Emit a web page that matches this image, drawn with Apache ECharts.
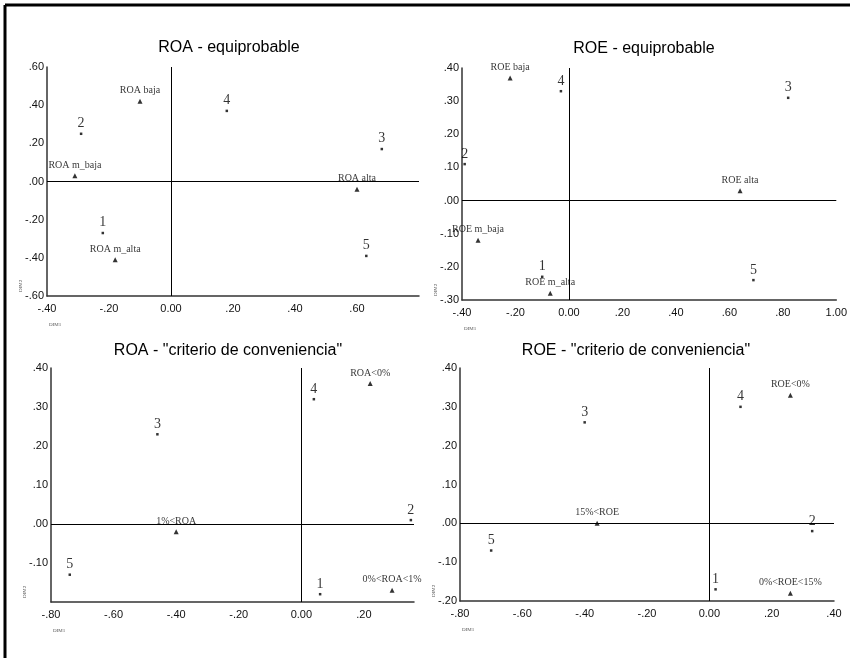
<!DOCTYPE html>
<html>
<head>
<meta charset="utf-8">
<script src="https://cdn.jsdelivr.net/npm/echarts@6/dist/echarts.min.js"></script>
<style>
  html,body{margin:0;padding:0;background:#fff;}
  #main{width:850px;height:658px;}
</style>
</head>
<body>
<div id="main"></div>
<script>
// ROA - equiprobable
var roaEqCat = ['ROA baja', 'ROA m_baja', 'ROA alta', 'ROA m_alta'];
var roaEqCatX = [-0.10, -0.31, 0.60, -0.18];
var roaEqCatY = [0.42, 0.03, -0.04, -0.41];
var roaEqObj = ['1', '2', '3', '4', '5'];
var roaEqObjX = [-0.22, -0.29, 0.68, 0.18, 0.63];
var roaEqObjY = [-0.27, 0.25, 0.17, 0.37, -0.39];

// ROE - equiprobable
var roeEqCat = ['ROE baja', 'ROE alta', 'ROE m_baja', 'ROE m_alta'];
var roeEqCatX = [-0.22, 0.64, -0.34, -0.07];
var roeEqCatY = [0.37, 0.03, -0.12, -0.28];
var roeEqObj = ['1', '2', '3', '4', '5'];
var roeEqObjX = [-0.10, -0.39, 0.82, -0.03, 0.69];
var roeEqObjY = [-0.23, 0.11, 0.31, 0.33, -0.24];

// ROA - criterio de conveniencia
var roaCvCat = ['ROA<0%', '1%<ROA', '0%<ROA<1%'];
var roaCvCatX = [0.22, -0.40, 0.29];
var roaCvCatY = [0.36, -0.02, -0.17];
var roaCvObj = ['1', '2', '3', '4', '5'];
var roaCvObjX = [0.06, 0.35, -0.46, 0.04, -0.74];
var roaCvObjY = [-0.18, 0.01, 0.23, 0.32, -0.13];

// ROE - criterio de conveniencia
var roeCvCat = ['ROE<0%', '15%<ROE', '0%<ROE<15%'];
var roeCvCatX = [0.26, -0.36, 0.26];
var roeCvCatY = [0.33, 0.00, -0.18];
var roeCvObj = ['1', '2', '3', '4', '5'];
var roeCvObjX = [0.02, 0.33, -0.40, 0.10, -0.70];
var roeCvObjY = [-0.17, -0.02, 0.26, 0.30, -0.07];

var titles = ['ROA - equiprobable', 'ROE - equiprobable',
  'ROA - "criterio de conveniencia"', 'ROE - "criterio de conveniencia"'];

var chart = echarts.init(document.getElementById('main'), null, {renderer: 'canvas'});

function pts(names, xs, ys) {
  var out = [];
  for (var i = 0; i < names.length; i++) {
    out.push({name: names[i], value: [xs[i], ys[i]]});
  }
  return out;
}

function fmtX(v) {
  if (Math.abs(v) < 1e-9) return '0.00';
  return v.toFixed(2).replace('0.', '.');
}
function fmtY(v) {
  if (Math.abs(v) < 1e-9) return '.00';
  return v.toFixed(2).replace('0.', '.');
}

var panels = [
  {grid: {left: 47, right: 431, top: 67, bottom: 362},
   x: [-0.4, 0.8, 0.2, false], y: [-0.6, 0.6, 0.2, true],
   cat: pts(roaEqCat, roaEqCatX, roaEqCatY), obj: pts(roaEqObj, roaEqObjX, roaEqObjY)},
  {grid: {left: 462, right: 12, top: 68, bottom: 358},
   x: [-0.4, 1.0, 0.2, true], y: [-0.3, 0.4, 0.1, true],
   cat: pts(roeEqCat, roeEqCatX, roeEqCatY), obj: pts(roeEqObj, roeEqObjX, roeEqObjY)},
  {grid: {left: 51, right: 436, top: 368, bottom: 56},
   x: [-0.8, 0.36, 0.2, false], y: [-0.2, 0.4, 0.1, true, false],
   cat: pts(roaCvCat, roaCvCatX, roaCvCatY), obj: pts(roaCvObj, roaCvObjX, roaCvObjY)},
  {grid: {left: 460, right: 16, top: 368, bottom: 57},
   x: [-0.8, 0.4, 0.2, true], y: [-0.2, 0.4, 0.1, true],
   cat: pts(roeCvCat, roeCvCatX, roeCvCatY), obj: pts(roeCvObj, roeCvObjX, roeCvObjY)}
];

var titleCenters = [[224, 35], [639, 36], [223, 338], [631, 338]];

var grids = [], xAxes = [], yAxes = [], series = [], titleList = [], graphics = [];

var axisLineStyle = {color: '#333', width: 1.5};
var tickFont = {color: '#111', fontFamily: 'Liberation Sans', fontSize: 11};

panels.forEach(function (p, i) {
  grids.push(p.grid);
  titleList.push({
    text: titles[i], left: titleCenters[i][0], top: titleCenters[i][1], textAlign: 'center',
    textStyle: {fontFamily: 'Liberation Sans', fontSize: 16, fontWeight: 'normal', color: '#000'}
  });
  xAxes.push({
    type: 'value', gridIndex: i, min: p.x[0], max: p.x[1], interval: p.x[2],
    axisLine: {show: true, onZero: false, lineStyle: axisLineStyle},
    axisTick: {show: false}, splitLine: {show: false},
    axisLabel: Object.assign({formatter: fmtX, margin: 7, showMaxLabel: p.x[3]}, tickFont)
  });
  yAxes.push({
    type: 'value', gridIndex: i, min: p.y[0], max: p.y[1], interval: p.y[2],
    axisLine: {show: true, onZero: false, lineStyle: axisLineStyle},
    axisTick: {show: false}, splitLine: {show: false},
    axisLabel: Object.assign({formatter: fmtY, margin: 3,
      showMinLabel: p.y[4] === false ? false : true}, tickFont)
  });
  series.push({
    type: 'scatter', xAxisIndex: i, yAxisIndex: i, data: p.cat,
    symbol: 'triangle', symbolSize: 5, itemStyle: {color: '#000'},
    label: {show: true, position: 'top', distance: 3, formatter: '{b}',
      fontFamily: 'Liberation Serif', fontSize: 10, color: '#000'},
    markLine: {
      silent: true, symbol: 'none', animation: false,
      label: {show: false},
      lineStyle: {color: '#000', width: 1, type: 'solid'},
      data: [{xAxis: 0}, {yAxis: 0}]
    },
    z: 3
  });
  series.push({
    type: 'scatter', xAxisIndex: i, yAxisIndex: i, data: p.obj,
    symbol: 'rect', symbolSize: 2.5, itemStyle: {color: '#000'},
    label: {show: true, position: 'top', distance: 2, formatter: '{b}',
      fontFamily: 'Liberation Serif', fontSize: 14, color: '#000'},
    z: 3
  });
  // small axis names
  var gl = p.grid.left, gb = 658 - p.grid.bottom;
  graphics.push({type: 'text', left: gl + 2, top: gb + 26,
    style: {text: 'DIM1', font: '5px Liberation Serif', fill: '#555'}});
  graphics.push({type: 'text', x: gl - 26, y: gb - 4, rotation: Math.PI / 2,
    style: {text: 'DIM2', font: '5px Liberation Serif', fill: '#555', align: 'left', verticalAlign: 'middle'}});
});

// page frame (top and left edges)
graphics.push({type: 'line', shape: {x1: 5, y1: 5, x2: 850, y2: 5}, style: {stroke: '#000', lineWidth: 3}});
graphics.push({type: 'line', shape: {x1: 5, y1: 5, x2: 5, y2: 658}, style: {stroke: '#000', lineWidth: 3}});

var option = {
  animation: false,
  backgroundColor: '#fff',
  title: titleList,
  grid: grids,
  xAxis: xAxes,
  yAxis: yAxes,
  series: series,
  graphic: graphics
};
chart.setOption(option);
</script>
</body>
</html>
